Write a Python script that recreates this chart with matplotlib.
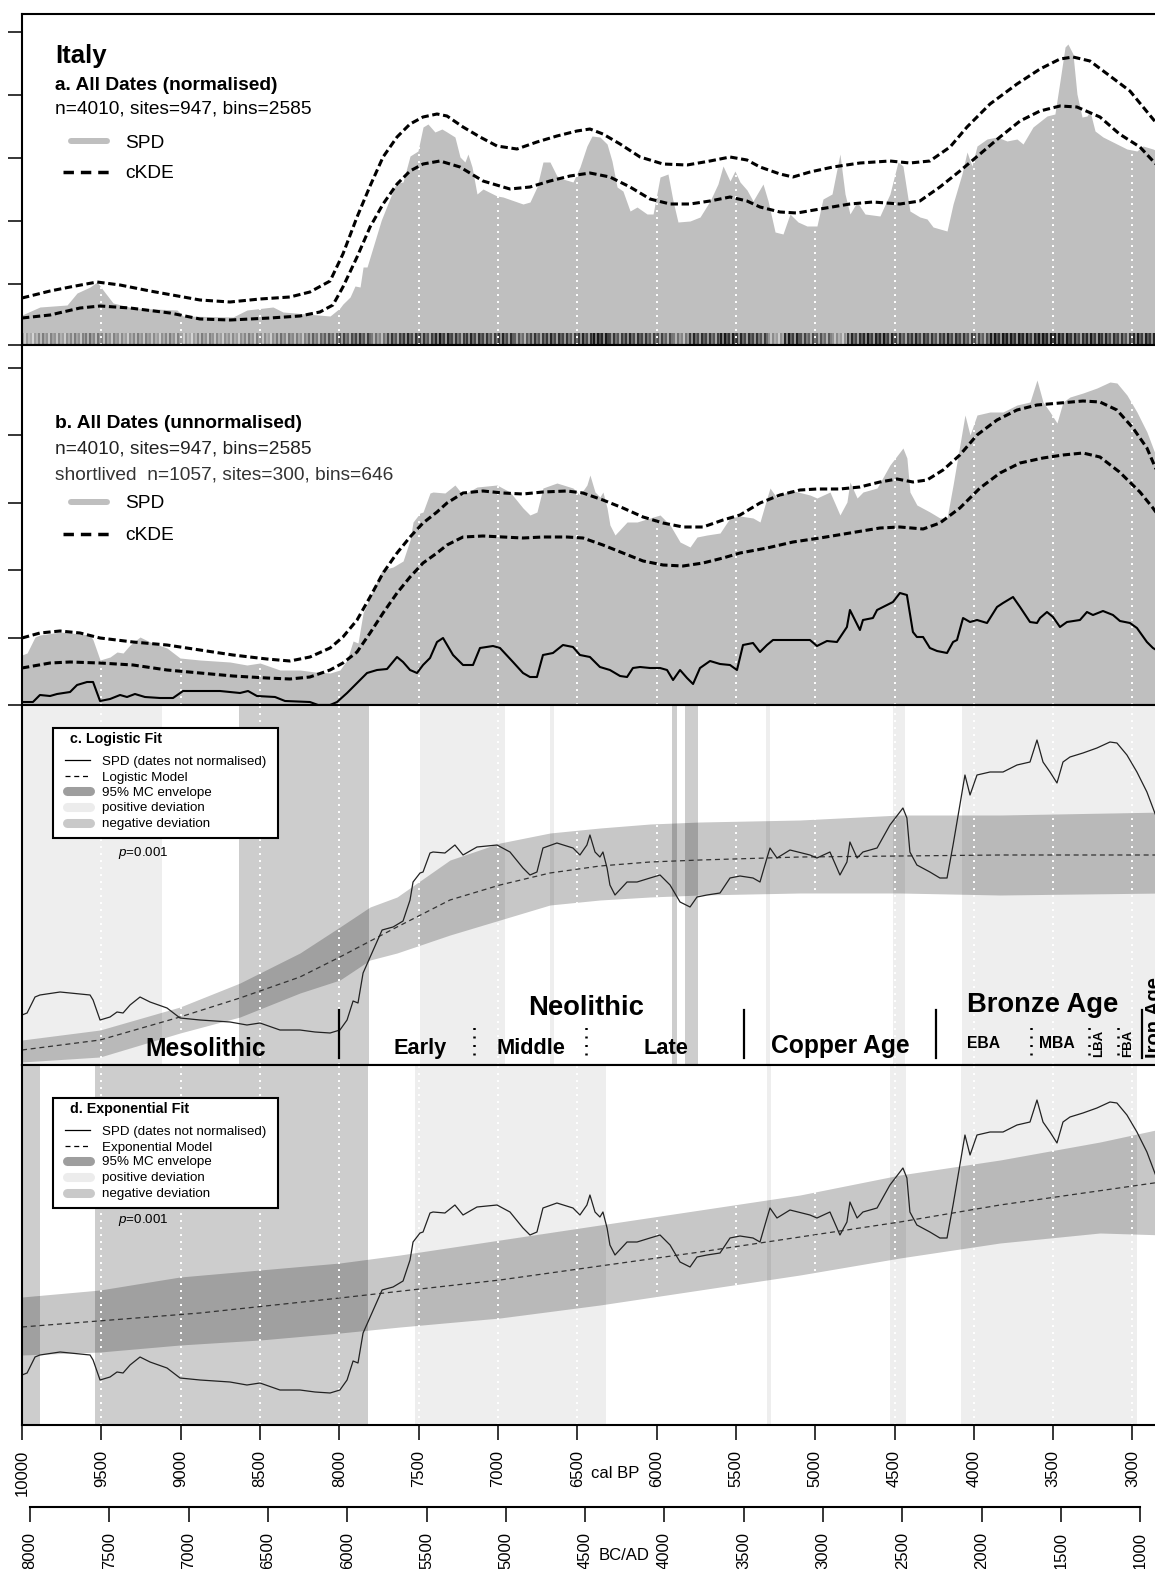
import numpy as np
import matplotlib
matplotlib.use("Agg")
import matplotlib.pyplot as plt
from matplotlib.lines import Line2D
from matplotlib.patches import Rectangle

plt.rcParams["font.family"] = ["Liberation Sans", "DejaVu Sans"]
plt.rcParams["mathtext.fontset"] = "custom"
plt.rcParams["mathtext.it"] = "Liberation Sans:italic"
plt.rcParams["mathtext.rm"] = "Liberation Sans"

# ---------------- time axis (cal BP) ----------------
X_OLD, X_YOUNG = 10000, 2795
BP_TICKS = list(range(10000, 2999, -500))
BC_TICKS = list(range(8000, 999, -500))
GRID_BP = list(range(9500, 2999, -500))

# ---------------- panel a: all dates, normalised ----------------
a_spd_bp = [10000, 9887, 9716, 9653, 9571, 9527, 9489, 9426, 9300, 9023, 8985, 8670, 8582, 8418, 8355,
            8058, 7996, 7977, 7932, 7901, 7869, 7850, 7825, 7735, 7649, 7636, 7598, 7554, 7504, 7472,
            7441, 7397, 7353, 7321, 7271, 7239, 7208, 7189, 7163, 7132, 7094, 7006, 6968, 6842, 6798,
            6754, 6716, 6672, 6628, 6590, 6527, 6483, 6439, 6407, 6357, 6312, 6281, 6249, 6212, 6167,
            6123, 6060, 6022, 5978, 5928, 5896, 5865, 5789, 5726, 5663, 5613, 5581, 5537, 5506, 5474,
            5430, 5392, 5329, 5297, 5253, 5203, 5159, 5108, 5052, 4989, 4951, 4894, 4844, 4812, 4781,
            4736, 4686, 4592, 4529, 4478, 4447, 4403, 4340, 4295, 4257, 4169, 4131, 4075, 4043, 4012,
            3980, 3917, 3854, 3791, 3728, 3690, 3627, 3539, 3489, 3457, 3425, 3407, 3375, 3350, 3318,
            3287, 3268, 3236, 3186, 3098, 3035, 2972, 2934, 2871, 2795]
a_spd = [30, 38, 40, 52, 58, 63, 55, 42, 37, 35, 29, 28, 35, 38, 33,
         29, 37, 41, 48, 59, 58, 78, 78, 125, 159, 162, 163, 189, 194, 218,
         221, 213, 216, 213, 208, 188, 183, 191, 178, 151, 156, 149, 148, 141, 143,
         158, 183, 183, 169, 166, 163, 178, 199, 209, 208, 201, 184, 158, 154, 134,
         138, 131, 131, 168, 171, 144, 123, 124, 128, 144, 161, 179, 164, 174, 163,
         155, 144, 161, 144, 113, 111, 131, 123, 119, 119, 146, 151, 191, 151, 131,
         143, 131, 129, 151, 183, 179, 134, 128, 126, 118, 114, 141, 171, 193, 179,
         199, 206, 208, 204, 206, 201, 218, 229, 231, 264, 298, 301, 291, 251, 228,
         229, 234, 214, 208, 201, 196, 194, 199, 196, 190]

a_kde_hi_bp = [10000, 9823, 9697, 9527, 9382, 9193, 8878, 8689, 8500, 8311, 8185, 8058, 7977, 7888, 7806,
               7724, 7636, 7554, 7472, 7384, 7321, 7220, 7113, 7006, 6880, 6754, 6628, 6502, 6420, 6338,
               6230, 6104, 5959, 5808, 5663, 5537, 5430, 5348, 5222, 5140, 5033, 4888, 4718, 4529, 4403,
               4277, 4150, 4043, 3898, 3728, 3583, 3457, 3375, 3268, 3142, 3016, 2871, 2795]
a_kde_hi = [47, 54, 58, 63, 60, 54, 45, 43, 46, 48, 53, 64, 91, 128, 159,
            188, 208, 221, 228, 231, 229, 218, 208, 199, 196, 203, 209, 214, 216, 211,
            201, 188, 181, 180, 184, 188, 185, 178, 171, 168, 173, 178, 182, 184, 182,
            184, 198, 218, 241, 261, 276, 286, 288, 284, 269, 254, 226, 212]

a_kde_lo_bp = [10000, 9823, 9634, 9508, 9319, 9067, 8878, 8689, 8437, 8248, 8122, 8040, 7977, 7888, 7806,
               7724, 7636, 7554, 7472, 7365, 7239, 7094, 6924, 6798, 6672, 6546, 6420, 6294, 6167, 6041,
               5915, 5789, 5663, 5537, 5430, 5348, 5222, 5115, 4970, 4781, 4636, 4466, 4340, 4214, 4088,
               3961, 3835, 3709, 3583, 3457, 3350, 3205, 3082, 2953, 2871, 2795]
a_kde_lo = [27, 30, 37, 39, 37, 32, 26, 25, 27, 29, 33, 40, 58, 88, 118,
            141, 161, 174, 181, 184, 178, 164, 156, 158, 164, 169, 172, 168, 158, 146,
            141, 141, 144, 148, 144, 138, 133, 132, 136, 141, 143, 141, 144, 158, 174,
            191, 208, 224, 234, 239, 238, 228, 211, 198, 184, 172]

# density of dated bins, one value per century from 10000 BP
bin_density = [0.35, 0.45, 0.40, 0.45, 0.50, 0.45, 0.40, 0.45, 0.40, 0.45, 0.35, 0.45, 0.40, 0.40, 0.45,
               0.40, 0.50, 0.45, 0.55, 0.60, 0.65, 0.70, 0.50, 0.70, 0.75, 0.70, 0.80, 0.70, 0.75, 0.70,
               0.75, 0.60, 0.70, 0.75, 0.70, 0.75, 0.90, 0.70, 0.75, 0.70, 0.65, 0.50, 0.75, 0.70, 0.85,
               0.75, 0.70, 0.40, 0.80, 0.65, 0.60, 0.40, 0.75, 0.80, 0.80, 0.70, 0.75, 0.70, 0.75, 0.70,
               0.65, 0.85, 0.85, 0.80, 0.90, 0.85, 0.75, 0.80, 0.75, 0.70, 0.80, 0.75]
# fixed stripe texture applied inside each century cell of the bin strip
stripe_texture = [1.15, 0.65, 1.25, 0.85, 1.05, 0.55, 1.2, 0.9]

# ---------------- panel b: all dates, unnormalised ----------------
spd_bp = [10000, 9968, 9918, 9887, 9760, 9571, 9552, 9508, 9445, 9401, 9363, 9319, 9256, 9193, 9086,
          9004, 8878, 8689, 8582, 8500, 8374, 8248, 8153, 8058, 7996, 7951, 7913, 7882, 7850, 7730,
          7661, 7598, 7554, 7535, 7491, 7472, 7428, 7409, 7334, 7271, 7220, 7132, 7006, 6924, 6842,
          6798, 6754, 6716, 6628, 6527, 6483, 6439, 6420, 6388, 6357, 6338, 6312, 6294, 6262, 6186,
          6123, 6041, 5978, 5915, 5852, 5789, 5745, 5682, 5600, 5537, 5474, 5392, 5348, 5304, 5285,
          5241, 5159, 5033, 4989, 4907, 4863, 4844, 4800, 4781, 4736, 4699, 4610, 4529, 4466, 4447,
          4422, 4403, 4359, 4277, 4214, 4169, 4131, 4088, 4056, 4024, 3980, 3898, 3816, 3728, 3646,
          3602, 3564, 3520, 3476, 3438, 3394, 3312, 3224, 3142, 3098, 3035, 2972, 2909, 2871, 2795]
spd = [50, 52, 68, 70, 73, 70, 65, 45, 48, 53, 52, 60, 68, 63, 57,
       47, 45, 43, 40, 42, 35, 35, 33, 32, 35, 45, 64, 62, 92, 135,
       138, 144, 165, 183, 192, 193, 212, 213, 212, 220, 210, 218, 220, 213, 197,
       190, 193, 217, 222, 217, 210, 220, 230, 213, 208, 213, 197, 180, 170, 183,
       183, 187, 190, 180, 163, 158, 168, 170, 172, 187, 189, 187, 183, 207, 217,
       207, 215, 210, 207, 213, 197, 190, 203, 223, 207, 213, 217, 240, 253, 257,
       247, 213, 200, 193, 187, 187, 220, 260, 290, 270, 290, 293, 293, 300, 303,
       325, 303, 293, 282, 303, 308, 312, 317, 323, 322, 310, 293, 273, 257, 225]

b_kde_hi_bp = [10000, 9887, 9760, 9634, 9508, 9300, 9086, 8878, 8670, 8456, 8311, 8185, 8058, 7977, 7888,
               7806, 7724, 7636, 7554, 7472, 7384, 7321, 7220, 7094, 6968, 6842, 6716, 6565, 6464, 6338,
               6212, 6085, 5959, 5833, 5707, 5581, 5474, 5348, 5222, 5096, 4989, 4844, 4718, 4592, 4484,
               4384, 4295, 4194, 4088, 3980, 3854, 3728, 3602, 3457, 3312, 3205, 3098, 2997, 2909, 2871, 2795]
b_kde_hi = [67, 72, 74, 72, 67, 63, 60, 55, 50, 46, 44, 48, 57, 68, 85,
            108, 132, 152, 168, 182, 193, 202, 212, 214, 212, 211, 213, 214, 212, 205,
            197, 188, 182, 178, 178, 185, 190, 202, 210, 215, 216, 216, 218, 223, 226,
            223, 225, 235, 250, 270, 285, 295, 300, 302, 304, 303, 295, 277, 257, 243, 215]

b_kde_lo_bp = [10000, 9823, 9697, 9508, 9300, 9086, 8878, 8670, 8456, 8311, 8185, 8058, 7977, 7888, 7806,
               7724, 7636, 7554, 7472, 7384, 7321, 7220, 7094, 6968, 6842, 6716, 6565, 6464, 6338, 6212,
               6085, 5959, 5833, 5707, 5581, 5474, 5304, 5140, 4970, 4781, 4592, 4466, 4320, 4214, 4088,
               3961, 3835, 3709, 3564, 3438, 3312, 3205, 3082, 2953, 2871, 2795]
b_kde_lo = [37, 42, 43, 42, 40, 35, 32, 29, 27, 26, 28, 35, 42, 53, 72,
            92, 112, 128, 142, 152, 160, 168, 169, 168, 167, 168, 168, 167, 160, 152,
            144, 140, 139, 142, 147, 152, 157, 163, 167, 172, 177, 178, 176, 182, 197,
            217, 232, 242, 247, 250, 252, 248, 233, 213, 197, 180]

short_bp = [10000, 9931, 9887, 9823, 9779, 9697, 9653, 9590, 9552, 9508, 9445, 9382, 9338, 9288, 9225,
            9130, 9048, 8985, 8752, 8626, 8575, 8519, 8405, 8342, 8185, 8134, 8058, 8014, 7951, 7888,
            7825, 7762, 7699, 7636, 7598, 7554, 7510, 7472, 7428, 7384, 7346, 7283, 7220, 7157, 7113,
            7031, 6987, 6905, 6842, 6798, 6754, 6716, 6653, 6590, 6527, 6483, 6420, 6357, 6294, 6230,
            6186, 6149, 6104, 6041, 5978, 5934, 5896, 5852, 5808, 5770, 5726, 5663, 5600, 5537, 5493,
            5455, 5424, 5392, 5348, 5304, 5266, 5033, 4989, 4926, 4863, 4800, 4781, 4718, 4699, 4636,
            4610, 4547, 4510, 4466, 4422, 4384, 4359, 4320, 4277, 4232, 4169, 4131, 4106, 4068, 4024,
            3980, 3917, 3854, 3816, 3753, 3709, 3646, 3602, 3583, 3539, 3501, 3457, 3413, 3331, 3287,
            3249, 3186, 3123, 3079, 3016, 2972, 2909, 2871, 2795]
short = [3, 3, 10, 9, 11, 13, 20, 23, 23, 4, 6, 10, 8, 11, 8,
         7, 7, 14, 14, 12, 14, 9, 8, 4, 3, 0, 0, 3, 12, 22,
         32, 35, 36, 48, 43, 35, 32, 40, 47, 63, 67, 50, 40, 40, 57,
         59, 57, 43, 32, 28, 28, 50, 52, 60, 58, 50, 48, 38, 35, 29,
         28, 37, 38, 37, 37, 35, 25, 35, 27, 21, 37, 44, 41, 40, 35,
         60, 61, 62, 53, 60, 65, 65, 59, 64, 63, 78, 95, 75, 85, 87,
         95, 100, 103, 112, 110, 73, 68, 68, 57, 54, 52, 63, 65, 87, 83,
         85, 82, 98, 102, 108, 98, 83, 82, 87, 93, 88, 78, 83, 85, 93,
         90, 94, 90, 84, 82, 77, 63, 57, 50]

# ---------------- panel c: logistic fit ----------------
logi_bp = [10000, 9508, 9004, 8626, 8248, 7996, 7636, 7302, 6987, 6672, 6357, 6041, 5726, 5096, 4466, 3835, 2795]
logi = [15, 25, 48, 67, 88, 108, 138, 165, 180, 192, 199, 203, 205, 208, 209, 210, 210]
logi_env_bp = [10000, 9508, 9004, 8626, 8248, 7996, 7806, 7636, 7302, 6987, 6672, 6357, 6041, 5726, 5096, 4466, 3835, 2795]
logi_env_hi = [25, 35, 58, 82, 112, 138, 158, 168, 205, 222, 232, 237, 241, 243, 245, 250, 250, 253]
logi_env_lo = [3, 8, 32, 48, 72, 85, 105, 112, 130, 145, 160, 165, 168, 170, 172, 172, 170, 172]
logi_pos = [(10000, 9119), (7491, 6955), (6672, 6648), (5310, 5285), (4510, 4434), (4075, 2795)]
logi_neg = [(8632, 7813), (5903, 5872), (5821, 5739)]

# ---------------- panel d: exponential fit ----------------
expo_bp = [10000, 8878, 7996, 6987, 5726, 4466, 3835, 2865, 2795]
expo = [98, 112, 127, 145, 173, 203, 220, 242, 244]
expo_env_bp = [10000, 9508, 9004, 8500, 7996, 7617, 6987, 6357, 5726, 5096, 4466, 3835, 3205, 2795]
expo_env_hi = [128, 135, 148, 155, 162, 170, 185, 200, 215, 230, 250, 265, 283, 297]
expo_env_lo = [70, 73, 80, 85, 92, 98, 107, 120, 135, 150, 167, 182, 192, 190]
expo_pos = [(7523, 6321), (5304, 5279), (4528, 4427), (4081, 2972)]
expo_neg = [(10000, 9887), (9540, 7816)]

# ---------------- cultural periods ----------------
period_bounds = [8000, 5450, 4240, 2942]
subperiod_bounds = [7151, 6445, 3642, 3274, 3093]

# ---------------- styling ----------------
SPD_GREY = "#bfbfbf"
POS_COL = "#eeeeee"
NEG_COL = "#cdcdcd"
KDE_DASH = (0, (2.4, 1.2))
GRID_DOTS = (0, (1, 2.6))

W, H = 1155, 1569
fig = plt.figure(figsize=(W / 100, H / 100), dpi=100)


def panel(top, bottom):
    left, right = 22, 1165
    ax = fig.add_axes([left / W, 1 - bottom / H, (right - left) / W, (bottom - top) / H])
    ax.set_xlim(X_OLD, X_YOUNG)
    ax.set_ylim(0, bottom - top)
    for s in ax.spines.values():
        s.set_linewidth(1.5)
        s.set_zorder(8)
    ax.set_xticks([])
    return ax


def ftext(x, y, s, **kw):
    kw.setdefault("va", "baseline")
    kw.setdefault("ha", "left")
    fig.text(x / W, 1 - y / H, s, **kw)


def fline(x0, x1, y, **kw):
    ln = Line2D([x0 / W, x1 / W], [1 - y / H, 1 - y / H], transform=fig.transFigure, **kw)
    fig.add_artist(ln)


def grid(ax):
    for g in GRID_BP:
        ax.axvline(g, color="white", lw=1.4, ls=GRID_DOTS, zorder=2.2)


# ---- panel a ----
ax_a = panel(14, 345)
ax_a.fill_between(a_spd_bp, 0, a_spd, color=SPD_GREY, lw=0, zorder=1)
dens = (np.array(bin_density)[:, None] * np.array(stripe_texture)[None, :]).ravel()[None, :]
ax_a.imshow(np.clip(dens, 0, 1), cmap="gray_r", vmin=0, vmax=1.1, aspect="auto",
            interpolation="nearest",
            extent=(10000, 10000 - 100 * len(bin_density), 0, 12), zorder=1.5)
grid(ax_a)
ax_a.plot(a_kde_hi_bp, a_kde_hi, color="black", lw=2.2, ls=KDE_DASH, zorder=4)
ax_a.plot(a_kde_lo_bp, a_kde_lo, color="black", lw=2.2, ls=KDE_DASH, zorder=4)
ax_a.set_xlim(X_OLD, X_YOUNG)
ax_a.set_ylim(0, 331)
ax_a.set_yticks([0, 61, 124, 187, 250, 313])
ax_a.set_yticklabels([])
ax_a.tick_params(axis="y", length=10, width=1.1, direction="out")

ftext(55, 63, "Italy", fontsize=18.5, fontweight="bold")
ftext(55, 90, "a. All Dates (normalised)", fontsize=13.8, fontweight="bold")
ftext(55, 113, "n=4010, sites=947, bins=2585", fontsize=13.8)
fline(71, 107, 141, color=SPD_GREY, lw=4.3, solid_capstyle="round")
ftext(125, 147.5, "SPD", fontsize=13.8)
fline(63, 112, 172, color="black", lw=2.5, ls=(0, (3, 2)))
ftext(125, 178, "cKDE", fontsize=13.8)

# ---- panel b ----
ax_b = panel(345, 705)
ax_b.fill_between(spd_bp, 0, spd, color=SPD_GREY, lw=0, zorder=1)
grid(ax_b)
ax_b.plot(b_kde_hi_bp, b_kde_hi, color="black", lw=2.2, ls=KDE_DASH, zorder=4)
ax_b.plot(b_kde_lo_bp, b_kde_lo, color="black", lw=2.2, ls=KDE_DASH, zorder=4)
ax_b.plot(short_bp, short, color="black", lw=1.5, zorder=5)
ax_b.set_yticks([0, 67, 135, 202, 270, 337])
ax_b.set_yticklabels([])
ax_b.tick_params(axis="y", length=10, width=1.1, direction="out")

ftext(55, 428, "b. All Dates (unnormalised)", fontsize=13.8, fontweight="bold")
ftext(55, 454, "n=4010, sites=947, bins=2585", fontsize=13.8, color="#222222")
ftext(55, 480, "shortlived  n=1057, sites=300, bins=646", fontsize=13.8, color="#333333")
fline(71, 107, 502, color=SPD_GREY, lw=4.3, solid_capstyle="round")
ftext(125, 508, "SPD", fontsize=13.8)
fline(63, 112, 534, color="black", lw=2.5, ls=(0, (3, 2)))
ftext(125, 540, "cKDE", fontsize=13.8)


# ---- panels c and d ----
def fit_panel(top, bottom, pos, neg, env_bp, env_lo, env_hi, mod_bp, mod):
    ax = panel(top, bottom)
    for b0, b1 in pos:
        ax.axvspan(b0, b1, color=POS_COL, lw=0, zorder=0.5)
    for b0, b1 in neg:
        ax.axvspan(b0, b1, color=NEG_COL, lw=0, zorder=0.5)
    ax.fill_between(env_bp, env_lo, env_hi, color="black", alpha=0.22, lw=0, zorder=1)
    grid(ax)
    ax.plot(mod_bp, mod, color="#333333", lw=0.9, ls=(0, (4, 3)), zorder=4)
    ax.plot(spd_bp, spd, color="#222222", lw=0.9, zorder=5)
    ax.set_yticks([])
    return ax


def fit_legend(top, title, model_name, ptext_y):
    fig.add_artist(Rectangle((53 / W, 1 - (top + 110) / H), 225 / W, 110 / H,
                             transform=fig.transFigure, facecolor="white",
                             edgecolor="black", lw=1.5, zorder=1))
    ftext(70, top + 15, title, fontsize=10.3, fontweight="bold")
    ys = [top + 32, top + 48, top + 63, top + 79, top + 95]
    fline(65, 90, ys[0], color="black", lw=0.9, zorder=2)
    fline(65, 88, ys[1], color="black", lw=0.9, ls=(0, (4, 3)), zorder=2)
    for y, c in zip(ys[2:], ["#9e9e9e", "#ececec", "#c9c9c9"]):
        fline(67, 90, y, color=c, lw=6.5, solid_capstyle="round", zorder=2)
    labels = ["SPD (dates not normalised)", model_name, "95% MC envelope",
              "positive deviation", "negative deviation"]
    for y, s in zip(ys, labels):
        ftext(102, y + 4.5, s, fontsize=9.6)
    ftext(118, ptext_y, r"$p$=0.001", fontsize=9.6)


ax_c = fit_panel(705, 1065, logi_pos, logi_neg, logi_env_bp, logi_env_lo, logi_env_hi, logi_bp, logi)
fit_legend(728, "c. Logistic Fit", "Logistic Model", 856)

ax_d = fit_panel(1065, 1425, expo_pos, expo_neg, expo_env_bp, expo_env_lo, expo_env_hi, expo_bp, expo)
fit_legend(1098, "d. Exponential Fit", "Exponential Model", 1223)

# cultural periods drawn along the foot of panel c
for b in period_bounds:
    ax_c.plot([b, b], [7, 55], color="black", lw=1.6, zorder=6)
for b in subperiod_bounds:
    ax_c.plot([b, b], [10, 43], color="black", lw=1.8, ls=(0, (0.8, 2.6)), zorder=6)

period_labels = [
    (9225, 9, "Mesolithic", 17.7),
    (6809, 50, "Neolithic", 19.7),
    (7659, 11, "Early", 15.7),
    (7012, 11, "Middle", 15.7),
    (6083, 11, "Late", 15.7),
    (5281, 12, "Copper Age", 17.7),
    (4045, 53, "Bronze Age", 19.7),
    (4045, 17, "EBA", 11.3),
    (3587, 17, "MBA", 11.3),
]
for x, y, s, fs in period_labels:
    ax_c.text(x, y, s, fontsize=fs, fontweight="bold", ha="left", va="baseline", zorder=7)
for x, s in [(3211, "LBA"), (3030, "FBA")]:
    ax_c.text(x, 8, s, fontsize=9.5, fontweight="bold", rotation=90,
              ha="center", va="bottom", zorder=7)
ax_c.text(2921, 7, "Iron Age", fontsize=14.5, fontweight="bold", rotation=90,
          ha="left", va="bottom", zorder=7)

# ---- cal BP axis ----
ax_d.set_xticks(BP_TICKS)
ax_d.set_xticklabels([str(t) for t in BP_TICKS], rotation=90, fontsize=12)
ax_d.tick_params(axis="x", length=11, width=1.1, pad=7)
ftext(615, 1474, "cal BP", fontsize=12, ha="center", va="center")

# ---- BC/AD axis ----
ax_bc = fig.add_axes([22 / W, 1 - 1507 / H, 1143 / W, 1e-4])
ax_bc.set_xlim(X_OLD - 1950, X_YOUNG - 1950)
ax_bc.patch.set_visible(False)
for s in ["top", "left", "right"]:
    ax_bc.spines[s].set_visible(False)
ax_bc.spines["bottom"].set_linewidth(1.5)
ax_bc.spines["bottom"].set_bounds(BC_TICKS[0], BC_TICKS[-1])
ax_bc.set_yticks([])
ax_bc.set_xticks(BC_TICKS)
ax_bc.set_xticklabels([str(t) for t in BC_TICKS], rotation=90, fontsize=12)
ax_bc.tick_params(axis="x", length=11, width=1.1, pad=7)
ftext(624, 1555, "BC/AD", fontsize=12, ha="center", va="center")

fig.savefig("out.png", dpi=100)
